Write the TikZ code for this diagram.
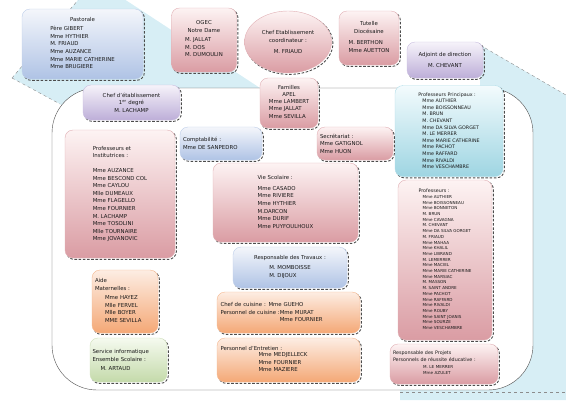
\documentclass[tikz,border=0pt]{standalone}
\usepackage{fontspec}
\setmainfont{DejaVu Sans}
\usetikzlibrary{shapes.geometric,shadows}
\definecolor{fond}{HTML}{D7EEF5}
\definecolor{bleuH}{HTML}{F4F6FB}\definecolor{bleuB}{HTML}{AFC3E5}
\definecolor{roseH}{HTML}{FDF3F3}\definecolor{roseB}{HTML}{DA9CA3}
\definecolor{mauveH}{HTML}{F6F3FA}\definecolor{mauveB}{HTML}{BDAED8}
\definecolor{cyanH}{HTML}{F3FBFD}\definecolor{cyanB}{HTML}{9ED5E2}
\definecolor{orangeH}{HTML}{FDEDE3}\definecolor{orangeB}{HTML}{F4A876}
\definecolor{vertH}{HTML}{F5FAEF}\definecolor{vertB}{HTML}{C4DAAA}
\tikzset{
  boite/.style 2 args={top color=#1, bottom color=#2, draw=#2!80!white,
    rounded corners=8pt, line width=.4pt,
    general shadow={shadow xshift=1.4pt, shadow yshift=-1.4pt, fill=none,
      draw=black!70, line width=.9pt, dash pattern=on 2.6pt off 1.6pt}},
  bleu/.style={boite={bleuH}{bleuB}},
  rose/.style={boite={roseH}{roseB}},
  mauve/.style={boite={mauveH}{mauveB}},
  turquoise/.style={boite={cyanH}{cyanB}},
  orange/.style={boite={orangeH}{orangeB}},
  vert/.style={boite={vertH}{vertB}},
  grand/.style={font=\fontsize{5.4}{7.6}\selectfont},
  moyen/.style={font=\fontsize{4.8}{6.6}\selectfont},
  petit/.style={font=\fontsize{4.1}{5.7}\selectfont}
}
\newcommand{\liste}[1]{\begin{tabular}{@{}l@{}}#1\end{tabular}}
\begin{document}
\begin{tikzpicture}[x=1pt,y=-1pt]
  \useasboundingbox (0,0) rectangle (566,400);
  \clip (0,0) rectangle (566,400);

  \fill[fond] (12,78) -- (95,-20) -- (260,88) -- (480,88) -- (480,45) -- (566,95)
    -- (566,400) -- (400,400) -- (400,380) -- (60,104) -- cycle;
  \draw[black!45, dashed] (12,78) -- (95,-20);
  \draw[black!45, dashed] (12,78) -- (60,104);
  \draw[black!45, dashed] (480,45) -- (566,95);
  \draw[black!45, dashed] (400,392) -- (566,392);
  \draw[black!70, fill=white, rounded corners=45pt] (52,88) rectangle (533,390);

  \begin{scope}[every node/.style={align=center, inner sep=2pt, text=black!90}]
    \node[bleu, grand, minimum width=121pt, minimum height=70pt] (1) at (82.5,44)
      {Pastorale\\[3pt]\liste{Père GIBERT\\Mme HYTHIER\\M. FRIAUD\\Mme AUZANCE\\Mme MARIE CATHERINE\\Mme BRUGIERE}};
    \node[rose, grand, minimum width=65pt, minimum height=64pt] (2) at (204,40)
      {OGEC\\Notre Dame\\[3pt]\liste{M. JALLAT\\M. DOS\\M. DUMOULIN}};
    \node[rose, grand, ellipse, minimum width=87pt, minimum height=62pt] (3) at (288,42)
      {Chef Etablissement\\coordinateur :\\[4pt]M. FRIAUD};
    \node[rose, grand, minimum width=60pt, minimum height=54pt] (4) at (369,38)
      {Tutelle\\Diocésaine\\[5pt]\liste{M. BERTHON\\Mme AUETTON}};
    \node[mauve, grand, minimum width=76pt, minimum height=36pt] (5) at (445,60)
      {Adjoint de direction\\[3pt]M. CHEVANT};
    \node[mauve, grand, minimum width=97pt, minimum height=35pt] (6) at (131.5,102.5)
      {Chef d'établissement\\1\textsuperscript{er} degré\\M. LACHAMP};
    \node[rose, grand, minimum width=58pt, minimum height=50pt] (7) at (289,103)
      {Familles\\APEL\\\liste{Mme LAMBERT\\Mme JALLAT\\Mme SEVILLA}};
    \node[turquoise, moyen, minimum width=108pt, minimum height=91pt] (8) at (449,131)
      {\liste{Professeurs Principaux :\\
       \hspace*{4pt}Mme AUTHIER\\\hspace*{4pt}Mme BOISSONNEAU\\\hspace*{4pt}M. BRUN\\
       \hspace*{4pt}M. CHEVANT\\\hspace*{4pt}Mme DA SILVA GORGET\\\hspace*{4pt}M. LE MERRER\\
       \hspace*{4pt}Mme MARIE CATHERINE\\\hspace*{4pt}Mme PACHOT\\\hspace*{4pt}Mme RAFFARD\\
       \hspace*{4pt}Mme RIVALDI\\\hspace*{4pt}Mme VESCHAMBRE}};
    \node[rose, grand, minimum width=110pt, minimum height=128pt] (9) at (120,194)
      {\liste{Professeurs et\\Institutrices :\\[7pt]
       Mme AUZANCE\\Mme BESCOND COL\\Mme CAYLOU\\Mlle DUMEAUX\\Mme FLAGELLO\\
       Mme FOURNIER\\M. LACHAMP\\Mme TOSOLINI\\Mlle TOURNAIRE\\Mme JOVANOVIC}};
    \node[bleu, grand, minimum width=82pt, minimum height=33pt, text width=76pt, align=left] (10) at (221,143.5)
      {Comptabilité :\\Mme DE SANPEDRO};
    \node[rose, grand, minimum width=76pt, minimum height=33pt, text width=70pt, align=left] (11) at (355,143.5)
      {Secrétariat :\\Mme GATIGNOL\\Mme HUON};
    \node[rose, grand, minimum width=145pt, minimum height=79pt] (12) at (285.5,202.5)
      {\liste{Vie Scolaire :\\[3pt]Mme CASADO\\Mme RIVIERE\\Mme HYTHIER\\M.DARCON\\Mme DURIF\\Mme PUYFOULHOUX}};
    \node[rose, petit, minimum width=94pt, minimum height=160pt] (13) at (445,260)
      {\liste{\fontsize{4.8}{6.6}\selectfont Professeurs :\\
       \hspace*{4pt}Mme AUTHIER\\\hspace*{4pt}Mme BOISSONNEAU\\\hspace*{4pt}Mme BONNETON\\
       \hspace*{4pt}M. BRUN\\\hspace*{4pt}Mme CAVAGNA\\\hspace*{4pt}M. CHEVANT\\
       \hspace*{4pt}Mme DA SILVA GORGET\\\hspace*{4pt}M. FRIAUD\\\hspace*{4pt}Mme MAHAA\\
       \hspace*{4pt}Mme KHALIL\\\hspace*{4pt}Mme LIBRAND\\\hspace*{4pt}M. LEMERRER\\
       \hspace*{4pt}Mme MACIEL\\\hspace*{4pt}Mme MARIE CATHERINE\\\hspace*{4pt}Mme MARSIAC\\
       \hspace*{4pt}M. MASSON\\\hspace*{4pt}M. SAINT ANDRE\\\hspace*{4pt}Mme PACHOT\\
       \hspace*{4pt}Mme RAFFARD\\\hspace*{4pt}Mme RIVALDI\\\hspace*{4pt}Mme ROUBY\\
       \hspace*{4pt}Mme SAINT JOANIS\\\hspace*{4pt}Mme SOURZE\\\hspace*{4pt}Mme VESCHAMBRE}};
    \node[bleu, grand, minimum width=114pt, minimum height=41pt] (14) at (290,267.5)
      {Responsable des Travaux :\\[3pt]\liste{M. MOMBOISSE\\M. DIJOUX}};
    \node[orange, grand, minimum width=66pt, minimum height=63pt, text width=60pt, align=left] (15) at (125,301.5)
      {Aide\\Maternelles :\\[3pt]\hspace*{10pt}\liste{Mme HAYEZ\\Mlle FERVEL\\Mlle BOYER\\MME SEVILLA}};
    \node[vert, grand, minimum width=77pt, minimum height=44pt, text width=72pt, align=left] (16) at (128.5,360)
      {Service informatique\\Ensemble Scolaire :\\[2pt]\hspace*{8pt}M. ARTAUD};
    \node[orange, grand, minimum width=143pt, minimum height=41pt, text width=136pt, align=left] (17) at (288.5,312.5)
      {\begin{tabular}{@{}l@{}l@{}}\multicolumn{2}{@{}l@{}}{Chef de cuisine : Mme GUEHO}\\
       Personnel de cuisine :\ & Mme MURAT\\ & Mme FOURNIER\end{tabular}};
    \node[orange, grand, minimum width=143pt, minimum height=44pt, text width=136pt, align=left] (18) at (288.5,360)
      {Personnel d'Entretien :\\\hspace*{38pt}\liste{Mme MEDJELLECK\\Mme FOURNIER\\Mme MAZIERE}};
    \node[rose, moyen, minimum width=108pt, minimum height=40pt, text width=102pt, align=left] (19) at (444,364)
      {Responsable des Projets\\Personnels de réussite éducative :\\[1pt]
       \hspace*{30pt}\liste{\fontsize{4.1}{5.4}\selectfont M. LE MERRER\\\fontsize{4.1}{5.4}\selectfont Mme AZULET}};
  \end{scope}

\end{tikzpicture}
\end{document}
